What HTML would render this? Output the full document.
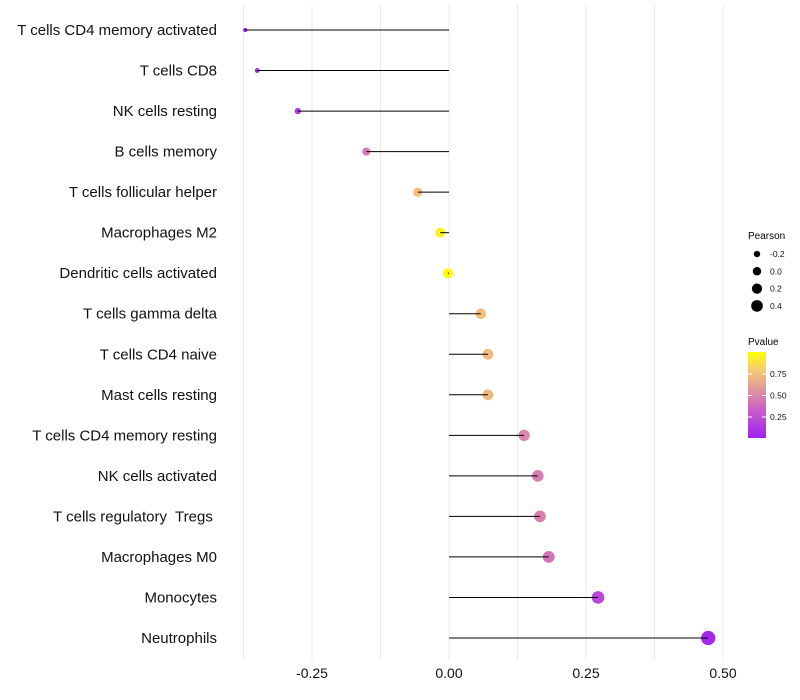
<!DOCTYPE html>
<html><head><meta charset="utf-8"><style>
body{margin:0;background:#fff;font-family:"Liberation Sans",Arial,sans-serif}
svg{display:block}
text{white-space:pre}
</style></head><body>
<svg id="chart" width="800" height="700" xmlns="http://www.w3.org/2000/svg">
<defs><linearGradient id="pgrad" x1="0" y1="1" x2="0" y2="0">
<stop offset="0" stop-color="#A020F0"/><stop offset="0.33" stop-color="#C95FC8"/><stop offset="0.6" stop-color="#E3A096"/><stop offset="0.8" stop-color="#F6CC70"/><stop offset="1" stop-color="#FFFF00"/></linearGradient></defs>
<g id="grid"></g>
<g id="marks"></g>
<g id="ylabels"></g>
<g id="xlabels"></g>
<g id="legS">
<text x="748" y="239" font-size="10" fill="#000">Pearson</text>
</g>
<g>
<text x="748" y="345" font-size="10" fill="#000">Pvalue</text>
<rect x="748" y="352" width="18" height="86" fill="url(#pgrad)"/>
<g id="legC"></g>
</g>
</svg>
<script>
const categories=["T cells CD4 memory activated","T cells CD8","NK cells resting","B cells memory","T cells follicular helper","Macrophages M2","Dendritic cells activated","T cells gamma delta","T cells CD4 naive","Mast cells resting","T cells CD4 memory resting","NK cells activated","T cells regulatory  Tregs ","Macrophages M0","Monocytes","Neutrophils"];
const pearson=[-0.372,-0.350,-0.276,-0.151,-0.057,-0.016,-0.002,0.058,0.071,0.071,0.137,0.162,0.166,0.182,0.272,0.473];
const pvalues=[0.01,0.02,0.12,0.45,0.75,0.95,0.99,0.75,0.72,0.72,0.5,0.46,0.46,0.42,0.2,0.04];
const xTicks=[-0.25,0,0.25,0.5];
const xTickLabels=["-0.25","0.00","0.25","0.50"];
const sizeLegend=[-0.2,0,0.2,0.4];
const colorTicks=[0.25,0.5,0.75];
const NS="http://www.w3.org/2000/svg";
const x=v=>449+v*548;
const y=i=>30+i*(608/15);
const r=v=>Math.sqrt(Math.max(2,25+55*v));
const stops=[[0,[160,32,240]],[0.33,[201,95,200]],[0.6,[227,160,150]],[0.8,[246,204,112]],[1,[255,255,0]]];
function col(p){for(let k=1;k<stops.length;k++){if(p<=stops[k][0]){const a=stops[k-1],b=stops[k],t=(p-a[0])/(b[0]-a[0]);return`rgb(${a[1].map((c,j)=>Math.round(c+(b[1][j]-c)*t)).join(",")})`}}return"rgb(255,255,0)"}
function mk(tag,attrs,parent){const e=document.createElementNS(NS,tag);for(const k in attrs)e.setAttribute(k,attrs[k]);parent.appendChild(e);return e}
const grid=document.getElementById("grid");
[-0.375,-0.25,-0.125,0,0.125,0.25,0.375,0.5].forEach(v=>{const l=mk("line",{x1:x(v),x2:x(v),y1:5,y2:660,stroke:"#ebebeb","stroke-width":1},grid);

});
const marks=document.getElementById("marks"),yl=document.getElementById("ylabels");
categories.forEach((c,i)=>{
const cc=mk("circle",{cx:x(pearson[i]),cy:y(i),r:r(pearson[i]),fill:col(pvalues[i])},marks);


const ln=mk("line",{x1:x(0),x2:x(pearson[i]),y1:y(i),y2:y(i),stroke:"#000","stroke-width":1},marks);


const t=mk("text",{x:217,y:y(i)+5,"text-anchor":"end","font-size":15,fill:"#111"},yl);t.textContent=c;


});
const xl=document.getElementById("xlabels");
xTicks.forEach((v,i)=>{const t=mk("text",{x:x(v),y:678,"text-anchor":"middle","font-size":14,fill:"#111"},xl);t.textContent=xTickLabels[i];

});
const legS=document.getElementById("legS");
sizeLegend.forEach((v,i)=>{const yy=254+i*17.3;
const c=mk("circle",{cx:757,cy:yy,r:r(v)*0.85,fill:"#000"},legS);


const t=mk("text",{x:770,y:yy+3,"font-size":8.5,fill:"#111"},legS);t.textContent=v.toFixed(1);

});
const legC=document.getElementById("legC");
colorTicks.forEach(v=>{const yy=438.5-v*86;
const l=mk("line",{x1:748,x2:752,y1:yy,y2:yy,stroke:"#fff"},legC);
const l2=mk("line",{x1:762,x2:766,y1:yy,y2:yy,stroke:"#fff"},legC);
const t=mk("text",{x:770,y:yy+3,"font-size":8.5,fill:"#111"},legC);t.textContent=v.toFixed(2);

});
</script>
</body></html>
